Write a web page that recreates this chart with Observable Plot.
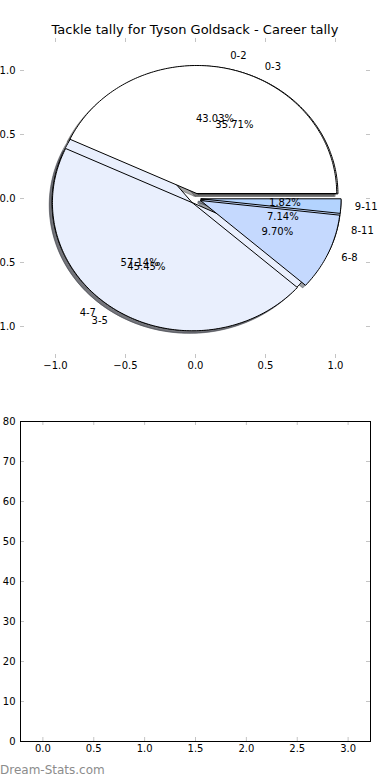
<!DOCTYPE html>
<html>
<head>
<meta charset="utf-8">
<script src="https://cdn.jsdelivr.net/npm/d3@7"></script>
<script src="https://cdn.jsdelivr.net/npm/@observablehq/plot@0.6"></script>
<style>
  html, body { margin: 0; padding: 0; background: #fff; width: 390px; overflow: hidden; }
  body { font-family: "DejaVu Sans", sans-serif; color: #000; }
  #title { box-sizing: border-box; height: 38px; padding-top: 22px; line-height: 15px; font-size: 13px; text-align: center; }
  #pie svg, #bar svg { display: block; }
  #wm { height: 20px; line-height: 20px; font-size: 12px; color: #8c8c8c; padding-left: 0px; }
</style>
</head>
<body>
<div id="title"></div>
<div id="pie"></div>
<div id="bar"></div>
<div id="wm"></div>
<script>
// ---- data ----
const chartTitle = "Tackle tally for Tyson Goldsack - Career tally";
const watermark = "Dream-Stats.com";
const pieALabels = ["0-2", "3-5", "6-8", "9-11"];
const pieAValues = [71, 75, 16, 3];
const pieBLabels = ["0-3", "4-7", "8-11"];
const pieBValues = [5, 8, 1];
const pieColors = ["#ffffff", "#e9effd", "#c5d9fe", "#b3d3fe"];
const shadowColors = ["#4d4d4d", "#464850", "#3b414c", "#363f4c"];
const explode = 0.04;
const shadowShift = 0.02;
const pieTicks = [-1, -0.5, 0, 0.5, 1];
const barYTicks = [0, 10, 20, 30, 40, 50, 60, 70, 80];
const barXTicks = [0, 0.5, 1, 1.5, 2, 2.5, 3];

document.getElementById("title").textContent = chartTitle;
document.getElementById("wm").textContent = watermark;

// ---- build wedges (matplotlib-style: counterclockwise from 3 o'clock) ----
function buildPie(labels, values, id) {
  const total = d3.sum(values);
  let cum = 0;
  return values.map((v, i) => {
    const t1 = 360 * cum / total; cum += v; const t2 = 360 * cum / total;
    const mid = (t1 + t2) / 2 * Math.PI / 180;
    const cx = explode * Math.cos(mid), cy = explode * Math.sin(mid);
    const pts = [[cx, cy]];
    const n = Math.max(2, Math.ceil(t2 - t1));
    for (let k = 0; k <= n; k++) {
      const a = (t1 + (t2 - t1) * k / n) * Math.PI / 180;
      pts.push([cx + Math.cos(a), cy + Math.sin(a)]);
    }
    pts.push([cx, cy]);
    const lx = cx + 1.1 * Math.cos(mid), ly = cy + 1.1 * Math.sin(mid);
    const px = cx + 0.6 * Math.cos(mid), py = cy + 0.6 * Math.sin(mid);
    return {id: id + i, label: labels[i], pct: (100 * v / total).toFixed(2) + "%",
      color: pieColors[i], shadow: shadowColors[i], pts, lx, ly, px, py};
  });
}
const pieA = buildPie(pieALabels, pieAValues, "A");
const pieB = buildPie(pieBLabels, pieBValues, "B");

function rows(pie, dx = 0, dy = 0) {
  return pie.flatMap(w => w.pts.map(([x, y]) => ({x: x + dx, y: y + dy, z: w.id, fill: w.color, shadow: w.shadow})));
}

function shadowMark(pie) {
  return Plot.line(rows(pie, -shadowShift, -shadowShift), {x: "x", y: "y", z: "z", fill: "shadow", fillOpacity: 0.5, stroke: "shadow", strokeOpacity: 0.5, strokeWidth: 1, curve: "linear"});
}
function wedgeMark(pie) {
  return Plot.line(rows(pie), {x: "x", y: "y", z: "z", fill: "fill", stroke: "#000", strokeWidth: 1, curve: "linear"});
}
function textMarks(pie) {
  return [
    Plot.text(pie.filter(d => d.lx > 0), {x: "lx", y: "ly", text: "label", textAnchor: "start", fill: "#000"}),
    Plot.text(pie.filter(d => d.lx <= 0), {x: "lx", y: "ly", text: "label", textAnchor: "end", fill: "#000"}),
    Plot.text(pie, {x: "px", y: "py", text: "pct", textAnchor: "middle", fill: "#000"})
  ];
}

const fmt1 = d3.format(".1f");
const tickGray = "#c4c4c4";

const pieW = 390, pieH = 352, pieMT = 0, pieMB = 32, pieML = 20, pieMR = 20;
const pieInnerW = pieW - pieML - pieMR, pieInnerH = pieH - pieMT - pieMB;

const pieChart = Plot.plot({
  width: pieW, height: pieH,
  marginTop: pieMT, marginBottom: pieMB, marginLeft: pieML, marginRight: pieMR,
  x: {domain: [-1.25, 1.25]},
  y: {domain: [-1.25, 1.25]},
  color: {type: "identity"},
  style: {fontFamily: "DejaVu Sans", fontSize: "10px", background: "#fff", overflow: "visible"},
  marks: [
    Plot.ruleX(pieTicks, {x: d => d, stroke: tickGray, insetBottom: pieInnerH - 4}),
    Plot.ruleX(pieTicks, {x: d => d, stroke: tickGray, insetTop: pieInnerH - 4}),
    Plot.ruleY(pieTicks, {y: d => d, stroke: tickGray, insetRight: pieInnerW - 4}),
    Plot.ruleY(pieTicks, {y: d => d, stroke: tickGray, insetLeft: pieInnerW - 4}),
    shadowMark(pieB),
    shadowMark(pieA),
    wedgeMark(pieB),
    wedgeMark(pieA),
    ...textMarks(pieB),
    ...textMarks(pieA),
    Plot.axisX({ticks: pieTicks, anchor: "bottom", tickSize: 0, tickPadding: 3, tickFormat: fmt1, label: null, fill: "#000"}),
    Plot.axisY({ticks: pieTicks, anchor: "left", tickSize: 0, tickPadding: 5, tickFormat: fmt1, label: null, fill: "#000"})
  ]
});
document.getElementById("pie").append(pieChart);

const barW = 390, barH = 370, barMT = 31, barMB = 19, barML = 20, barMR = 20;
const barInnerW = barW - barML - barMR, barInnerH = barH - barMT - barMB;

const barChart = Plot.plot({
  width: barW, height: barH,
  marginTop: barMT, marginBottom: barMB, marginLeft: barML, marginRight: barMR,
  x: {domain: [-0.22, 3.22]},
  y: {domain: [0, 80]},
  style: {fontFamily: "DejaVu Sans", fontSize: "10px", background: "#fff", overflow: "visible"},
  marks: [
    Plot.ruleX(barXTicks, {x: d => d, stroke: tickGray, insetBottom: barInnerH - 4}),
    Plot.ruleX(barXTicks, {x: d => d, stroke: tickGray, insetTop: barInnerH - 4}),
    Plot.ruleY(barYTicks, {y: d => d, stroke: tickGray, insetRight: barInnerW - 4}),
    Plot.ruleY(barYTicks, {y: d => d, stroke: tickGray, insetLeft: barInnerW - 4}),
    Plot.frame({stroke: "#000", strokeWidth: 1}),
    Plot.axisX({ticks: barXTicks, anchor: "bottom", tickSize: 0, tickPadding: 3, tickFormat: fmt1, label: null, fill: "#000"}),
    Plot.axisY({ticks: barYTicks, anchor: "left", tickSize: 0, tickPadding: 5, tickFormat: d3.format("d"), label: null, fill: "#000"})
  ]
});
document.getElementById("bar").append(barChart);
</script>
</body>
</html>
